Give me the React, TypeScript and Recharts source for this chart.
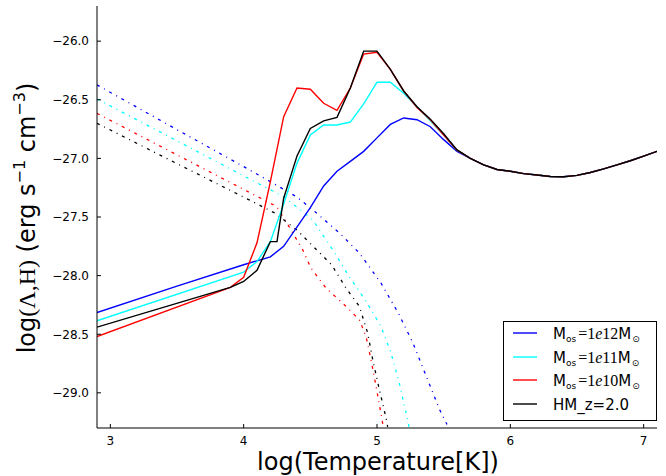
import React from 'react';
import { LineChart, Line, XAxis, YAxis, Legend } from 'recharts';

type P = [number, number];

const xTicks = [3, 4, 5, 6, 7];
const yTicks = [-29.0, -28.5, -28.0, -27.5, -27.0, -26.5, -26.0];

// common high-temperature branch shared by all solid curves
const tail: P[] = [
  [5.7, -27.0], [5.8, -27.055], [5.9, -27.095], [6.0, -27.11], [6.1, -27.13],
  [6.2, -27.142], [6.3, -27.155], [6.4, -27.157], [6.5, -27.145], [6.6, -27.12],
  [6.7, -27.09], [6.8, -27.055], [6.9, -27.02], [7.0, -26.98], [7.1, -26.94],
];

const blueSolid: P[] = [
  [2.9, -28.315], [3.5, -28.09], [4.0, -27.907], [4.2, -27.84], [4.3, -27.75],
  [4.42, -27.553], [4.5, -27.42], [4.6, -27.235], [4.7, -27.11], [4.8, -27.025],
  [4.9, -26.94], [5.0, -26.825], [5.1, -26.71], [5.2, -26.655], [5.3, -26.67],
  [5.4, -26.73], [5.5, -26.84], [5.6, -26.94], ...tail,
];
const cyanSolid: P[] = [
  [2.9, -28.385], [4.0, -27.97], [4.1, -27.88], [4.2, -27.71], [4.3, -27.39],
  [4.4, -27.04], [4.5, -26.80], [4.6, -26.715], [4.7, -26.715], [4.8, -26.69],
  [4.9, -26.535], [5.0, -26.35], [5.1, -26.35], [5.2, -26.445], [5.3, -26.56],
  [5.4, -26.68], [5.5, -26.80], [5.6, -26.93], ...tail,
];
const redSolid: P[] = [
  [2.9, -28.52], [3.9, -28.10], [4.0, -28.015], [4.1, -27.72], [4.2, -27.20],
  [4.3, -26.644], [4.4, -26.40], [4.5, -26.41], [4.6, -26.53], [4.7, -26.59],
  [4.8, -26.40], [4.9, -26.11], [5.0, -26.095], [5.1, -26.24], [5.2, -26.425],
  [5.3, -26.565], [5.4, -26.67], [5.5, -26.80], [5.6, -26.93], ...tail,
];
const blackSolid: P[] = [
  [2.9, -28.44], [3.9, -28.10], [4.0, -28.05], [4.1, -27.955], [4.2, -27.71],
  [4.25, -27.71], [4.3, -27.34], [4.35, -27.16], [4.4, -26.98], [4.5, -26.745],
  [4.6, -26.68], [4.7, -26.65], [4.8, -26.40], [4.9, -26.085], [5.0, -26.085],
  [5.1, -26.24], [5.2, -26.425], [5.3, -26.56], [5.4, -26.665], [5.5, -26.79],
  [5.6, -26.928], ...tail,
];

const blueDash: P[] = [
  [2.9, -26.373], [3.5, -26.755], [4.0, -27.07], [4.2, -27.198], [4.4, -27.33],
  [4.52, -27.44], [4.72, -27.638], [4.87, -27.81], [5.03, -28.064], [5.16, -28.32],
  [5.27, -28.576], [5.37, -28.86], [5.47, -29.144], [5.525, -29.27],
];
const cyanDash: P[] = [
  [2.9, -26.493], [3.5, -26.85], [4.0, -27.15], [4.3, -27.326], [4.518, -27.524],
  [4.668, -27.78], [4.793, -28.01], [4.918, -28.22], [5.03, -28.434], [5.105, -28.66],
  [5.167, -28.917], [5.23, -29.23], [5.24, -29.29],
];
const redDash: P[] = [
  [2.9, -26.616], [3.5, -26.97], [4.0, -27.265], [4.248, -27.411], [4.318, -27.539],
  [4.443, -27.78], [4.505, -27.936], [4.618, -28.107], [4.768, -28.263], [4.868, -28.377],
  [4.918, -28.52], [4.955, -28.718], [4.993, -28.945], [5.038, -29.23], [5.045, -29.28],
];
const blackDash: P[] = [
  [2.9, -26.70], [3.5, -27.045], [4.0, -27.33], [4.235, -27.467], [4.398, -27.61],
  [4.535, -27.766], [4.66, -27.908], [4.768, -28.107], [4.868, -28.263], [4.93, -28.49],
  [4.968, -28.718], [5.018, -28.974], [5.068, -29.215], [5.08, -29.29],
];

const seriesNames = ['1e12', '1e11', '1e10', 'HM_z=2.0'];
const seriesColors = ['#0000ff', '#00ffff', '#ff0000', '#000000'];
const solidData = [blueSolid, cyanSolid, redSolid, blackSolid];
const dashData = [blueDash, cyanDash, redDash, blackDash];

const toPts = (a: P[]) => a.map(([x, y]) => ({ x, y }));
const fmtY = (v: number) => (v < 0 ? '\u2212' : '') + Math.abs(v).toFixed(1);

const FONT = 'DejaVu Sans';
const SERIF = 'Liberation Serif';
const TL = 4;

const BottomTick = (p: any) => (
  <g>
    <line x1={p.x} y1={p.y} x2={p.x} y2={p.y - TL} stroke="#000" strokeWidth={1} />
    <text x={p.x} y={p.y + 16.5} textAnchor="middle" fontSize={12} fontFamily={FONT} fill="#000">
      {p.payload.value}
    </text>
  </g>
);
const TopTick = (p: any) => (
  <line x1={p.x} y1={p.y} x2={p.x} y2={p.y + TL} stroke="#000" strokeWidth={1} />
);
const LeftTick = (p: any) => (
  <g>
    <line x1={p.x} y1={p.y} x2={p.x + TL} y2={p.y} stroke="#000" strokeWidth={1} />
    <text x={p.x - 8} y={p.y + 4.3} textAnchor="end" fontSize={12} fontFamily={FONT} fill="#000">
      {fmtY(p.payload.value)}
    </text>
  </g>
);
const RightTick = (p: any) => (
  <line x1={p.x} y1={p.y} x2={p.x - TL} y2={p.y} stroke="#000" strokeWidth={1} />
);

const XTitle = (props: any) => {
  const vb = props.viewBox || { x: 97, width: 560 };
  return (
    <text x={vb.x + vb.width / 2 + 1} y={470} textAnchor="middle" fontSize={24} fontFamily={FONT} fill="#000">
      log(Temperature[K])
    </text>
  );
};

const YTitle = () => (
  <text
    x={35}
    y={218}
    transform="rotate(-90 35 218)"
    textAnchor="middle"
    fontSize={24}
    fontFamily={FONT}
    fill="#000"
  >
    <tspan>log</tspan>
    <tspan fontFamily={SERIF}>(Λ,H)</tspan>
    <tspan> (erg s</tspan>
    <tspan fontSize={16} dy={-10}>−1</tspan>
    <tspan dy={10}>  cm</tspan>
    <tspan fontSize={16} dy={-10}>−3</tspan>
    <tspan dy={10}>)</tspan>
  </text>
);

const LegendBox = () => {
  const rowY = [12, 36, 59, 83];
  return (
    <svg width={155} height={101} style={{ display: 'block' }}>
      <rect x={0.5} y={0.5} width={153} height={99} fill="#fff" stroke="#000" strokeWidth={1} />
      {seriesNames.map((n, i) => (
        <g key={n}>
          <line x1={10} x2={34} y1={rowY[i]} y2={rowY[i]} stroke={seriesColors[i]} strokeWidth={1.4} />
          {i < 3 ? (
            <text x={50} y={rowY[i] + 5.5} fontSize={15} fontFamily={FONT} fill="#000">
              <tspan>M</tspan>
              <tspan fontSize={9} dy={3}>os</tspan>
              <tspan fontFamily={SERIF} fontSize={16} dy={-3} dx={2}>=1</tspan>
              <tspan fontFamily={SERIF} fontSize={16} fontStyle="italic">e</tspan>
              <tspan fontFamily={SERIF} fontSize={16}>{n.slice(2)}</tspan>
              <tspan>M</tspan>
              <tspan fontSize={9} dy={3} dx={1}>⊙</tspan>
            </text>
          ) : (
            <text x={50} y={rowY[i] + 5.5} fontSize={15} fontFamily={FONT} fill="#000">
              {n}
            </text>
          )}
        </g>
      ))}
    </svg>
  );
};

export default function App() {
  return (
    <div style={{ position: 'absolute', left: 0, top: 0, width: 666, height: 476, background: '#fff' }}>
      <LineChart width={666} height={476} margin={{ top: 6, right: 9, bottom: 8, left: 17 }}>
        <XAxis
          xAxisId={0}
          type="number"
          dataKey="x"
          domain={[2.9, 7.1]}
          allowDataOverflow
          ticks={xTicks}
          interval={0}
          height={40}
          tickSize={0}
          tickMargin={0}
          tickLine={false}
          tick={BottomTick}
          axisLine={{ stroke: '#000', strokeWidth: 1 }}
          label={XTitle}
        />
        <XAxis
          xAxisId="top"
          orientation="top"
          type="number"
          dataKey="x"
          domain={[2.9, 7.1]}
          allowDataOverflow
          ticks={xTicks}
          interval={0}
          height={0}
          tickSize={0}
          tickMargin={0}
          tickLine={false}
          tick={TopTick}
          axisLine={{ stroke: '#000', strokeWidth: 1 }}
        />
        <YAxis
          yAxisId={0}
          type="number"
          domain={[-29.3, -25.7]}
          allowDataOverflow
          ticks={yTicks}
          interval={0}
          width={80}
          tickSize={0}
          tickMargin={0}
          tickLine={false}
          tick={LeftTick}
          axisLine={{ stroke: '#000', strokeWidth: 1 }}
          label={YTitle}
        />
        <YAxis
          yAxisId="right"
          orientation="right"
          type="number"
          domain={[-29.3, -25.7]}
          allowDataOverflow
          ticks={yTicks}
          interval={0}
          width={0}
          tickSize={0}
          tickMargin={0}
          tickLine={false}
          tick={RightTick}
          axisLine={{ stroke: '#000', strokeWidth: 1 }}
        />
        {seriesNames.map((n, i) => (
          <Line
            key={'d' + n}
            xAxisId={0}
            yAxisId={0}
            data={toPts(dashData[i])}
            dataKey="y"
            type="linear"
            stroke={seriesColors[i]}
            strokeWidth={1.3}
            strokeDasharray="3 5 1 5"
            dot={false}
            activeDot={false}
            isAnimationActive={false}
            legendType="none"
          />
        ))}
        {seriesNames.map((n, i) => (
          <Line
            key={'s' + n}
            xAxisId={0}
            yAxisId={0}
            data={toPts(solidData[i])}
            dataKey="y"
            name={n}
            type="linear"
            stroke={seriesColors[i]}
            strokeWidth={1.4}
            dot={false}
            activeDot={false}
            isAnimationActive={false}
          />
        ))}
        <Legend
          layout="vertical"
          align="center"
          verticalAlign="middle"
          content={() => <LegendBox />}
          wrapperStyle={{ position: 'absolute', left: 503, top: 321, width: 155, height: 101 }}
        />
      </LineChart>
    </div>
  );
}
